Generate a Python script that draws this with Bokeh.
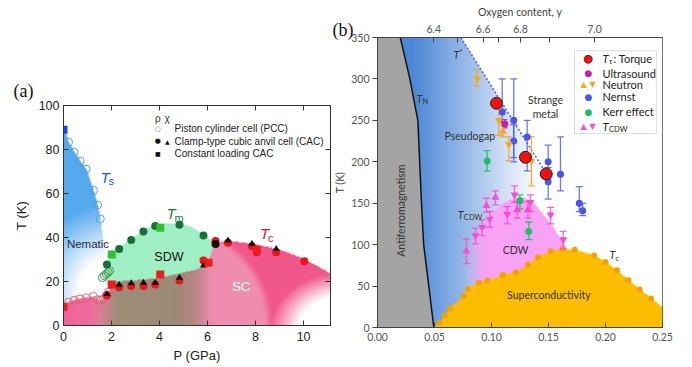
import numpy as np
from bokeh.plotting import figure
from bokeh.layouts import row
from bokeh.models import LinearAxis, FixedTicker, Label, BoxAnnotation, NumeralTickFormatter, Title
from bokeh.embed import file_html
from bokeh.resources import INLINE

FA = "Liberation Sans"
FB = "Lato"
FS = "Liberation Serif"

# ======================= Panel (a) data =======================
a_xticks = [0, 2, 4, 6, 8, 10]
a_yticks = [0, 20, 40, 60, 80, 100]

# Piston cylinder cell (open circles)
pcc_ts_P = [0.21, 0.44, 0.69, 0.94, 1.25, 1.42, 1.53]
pcc_ts_T = [83.3, 78.8, 74.7, 71.1, 61.4, 54.8, 48.5]
pcc_tm_P = [1.62, 1.70, 1.78, 1.86, 1.92]
pcc_tm_T = [21.8, 22.6, 23.4, 24.2, 25.0]
pcc_tc_P = [0.21, 0.44, 0.69, 0.94, 1.25, 1.42, 1.53, 1.67, 1.78, 1.87]
pcc_tc_T = [10.6, 11.4, 12.1, 12.6, 13.2, 11.7, 11.4, 12.1, 13.6, 15.2]
# Clamp-type cubic anvil cell, rho (filled circles)
cac_tm_P = [1.81, 2.32, 2.82, 3.33, 3.82, 4.83, 5.83]
cac_tm_T = [27.7, 34.8, 38.9, 42.7, 45.2, 45.8, 40.9]
cac_tc_P = [1.81, 2.32, 2.82, 3.33, 3.82, 4.83, 5.83, 6.33, 6.85, 7.85, 8.05, 8.86, 10.03]
cac_tc_T = [13.6, 17.4, 17.9, 17.9, 18.6, 20.5, 29.5, 38.4, 37.6, 36.0, 33.3, 33.3, 29.2]
cac_blk_P = [6.33]
cac_blk_T = [37.0]
# CAC, chi (triangles)
chi_tc_P = [1.81, 2.32, 2.82, 3.33, 3.82, 4.83, 5.83, 6.85, 7.85, 8.86]
chi_tc_T = [14.3, 18.5, 19.2, 19.4, 19.4, 21.7, 27.3, 38.6, 37.1, 34.8]
# Constant loading CAC (squares)
cl_ts_P = [0.0]
cl_ts_T = [89.0]
cl_tm_P = [2.01, 4.03]
cl_tm_T = [32.3, 44.4]
cl_tc_P = [0.0, 2.01, 4.03, 6.04, 8.05]
cl_tc_T = [8.5, 18.6, 23.2, 28.5, 34.4]

# phase boundaries (a)
ts_edge_P = [0.0, 0.21, 0.44, 0.69, 0.94, 1.25, 1.42, 1.53, 1.65, 1.75, 1.85, 1.95]
ts_edge_T = [90, 83.3, 78.8, 74.7, 71.1, 61.4, 54.8, 48.5, 38, 28, 18, 0]
sdw_top_P = [1.55, 1.70, 1.81, 2.01, 2.32, 2.82, 3.33, 3.82, 4.20, 4.83, 5.30, 5.83, 6.10, 6.30]
sdw_top_T = [24.0, 27.0, 29.0, 32.8, 35.3, 39.4, 43.2, 45.7, 46.3, 46.2, 44.8, 41.4, 39.0, 37.5]
sdw_bot_P = [1.55, 1.70, 1.85, 2.00, 3.00, 4.00, 4.80, 5.40, 5.80, 6.00, 6.15, 6.30]
sdw_bot_T = [24.0, 20.0, 18.0, 19.8, 20.5, 21.5, 23.5, 25.0, 26.5, 29.0, 33.0, 37.5]
sc_edge_P = [0.0, 0.21, 0.44, 0.69, 0.94, 1.25, 1.42, 1.53, 1.67, 1.78, 1.87, 2.0, 3.0, 4.0, 4.8,
             5.4, 5.8, 6.0, 6.15, 6.3, 6.85, 7.5, 8.0, 8.5, 9.0, 9.5, 10.03, 10.5, 11.12]
sc_edge_T = [8.5, 10.6, 11.4, 12.1, 12.6, 13.2, 11.7, 11.4, 12.1, 13.6, 15.2, 19.8, 20.5, 21.5, 23.5,
             25.0, 26.5, 29.0, 33.0, 37.5, 38.3, 37.6, 36.7, 35.6, 34.3, 32.4, 30.0, 27.3, 23.5]

# ======================= Panel (b) data =======================
b_xticks = [0.0, 0.05, 0.10, 0.15, 0.20, 0.25]
b_yticks = [0, 50, 100, 150, 200, 250, 300, 350]
oxy_values = [6.4, 6.5, 6.6, 6.7, 6.8, 6.9, 7.0]
oxy_tick_p = [0.0494, 0.0704, 0.0927, 0.1064, 0.1254, 0.1512, 0.1904]
oxy_shown = [True, False, True, False, True, False, True]

tn_p = [0.020, 0.0284, 0.0354, 0.0370, 0.0386, 0.0405, 0.0450, 0.0494]
tn_T = [350, 300, 250, 200, 150, 100, 50, 0]
tstar_p = [0.073, 0.148]
tstar_T = [350, 186]

tc_p = [0.0544, 0.0588, 0.0635, 0.0757, 0.0792, 0.0889, 0.0962, 0.110, 0.1216, 0.132, 0.1406,
        0.1518, 0.1626, 0.173, 0.190, 0.200, 0.210, 0.220, 0.230, 0.240]
tc_T = [5.7, 14.5, 23.0, 38.0, 46.6, 54.0, 56.7, 63.5, 66.7, 75.6, 84.8,
        92.0, 94.9, 93.7, 86.9, 79.0, 69.0, 57.0, 46.0, 35.0]
dome_p = [0.0494] + tc_p + [0.25]
dome_T = [0.0] + tc_T + [24.0]

cdw_p = [0.077, 0.085, 0.092, 0.100, 0.110, 0.120, 0.127, 0.135, 0.140, 0.146, 0.152, 0.158, 0.1605, 0.166]
cdw_T = [90, 110, 122, 138, 150, 156, 157, 152, 145, 135, 125, 112, 105, 95]

torque_p = [0.1044, 0.1298, 0.148]
torque_T = [270.6, 205.4, 185.4]

ultra_p = [0.1117]
ultra_T = [245.7]
ultra_lo = [241]
ultra_hi = [251]

neu_dn_p = [0.0874, 0.1064, 0.1152, 0.135]
neu_dn_T = [300, 250, 221, 201]
neu_dn_lo = [291, 232, 201, 171]
neu_dn_hi = [311, 266, 230, 230]
neu_up_p = [0.110]
neu_up_T = [237]
neu_up_lo = [230]
neu_up_hi = [244]

nernst_p = [0.1094, 0.1195, 0.1195, 0.1313, 0.1497, 0.1497, 0.1605, 0.177, 0.180]
nernst_T = [260, 250, 225, 230, 200, 176, 185, 150, 141]
nernst_lo = [248, 200, 205, 189, 180, 155, 165, 140, 135]
nernst_hi = [300, 300, 245, 250, 220, 193, 230, 170, 150]

kerr_p = [0.0962, 0.1249, 0.1327]
kerr_T = [201, 153, 116]
kerr_lo = [189, 143, 106]
kerr_hi = [213.5, 160, 127]

cdw_up_p = [0.078, 0.0956, 0.1035, 0.1225, 0.132]
cdw_up_T = [92, 147, 157, 142, 142]
cdw_up_lo = [77, 139, 148, 132, 132]
cdw_up_hi = [107, 156, 165, 152, 152]
cdw_dn_p = [0.086, 0.0918, 0.0985, 0.1138, 0.1202, 0.134, 0.1518, 0.1629]
cdw_dn_T = [111, 121, 131, 137, 160, 151, 136, 106]
cdw_dn_lo = [101, 111, 121, 125, 151, 140, 125, 95]
cdw_dn_hi = [120, 130, 140, 146, 171, 160, 145, 116]


# ======================= helpers =======================
def blend(rgb, col, a):
    a = np.asarray(a, float)[..., None]
    return rgb * (1 - a) + np.array(col, float) * a


def to_rgba(rgb):
    h, w, _ = rgb.shape
    img = np.empty((h, w), dtype=np.uint32)
    v = img.view(dtype=np.uint8).reshape((h, w, 4))
    v[..., :3] = np.clip(rgb, 0, 255).astype(np.uint8)
    v[..., 3] = 255
    return img


def lab(p, x, y, text, size, color="#222", font=FA, style="normal", align="left",
        baseline="middle", angle=0.0, xo=0, yo=0):
    p.add_layout(Label(x=x, y=y, text=text, text_font=font, text_font_size=f"{size}px",
                       text_font_style=style, text_color=color, text_align=align,
                       text_baseline=baseline, angle=angle, x_offset=xo, y_offset=yo))


def style_axis(ax, font, size, color, tin, tout, tickcol):
    ax.major_tick_in = tin
    ax.major_tick_out = tout
    ax.minor_tick_line_color = None
    ax.major_label_text_font = font
    ax.major_label_text_font_size = f"{size}px"
    ax.major_label_text_color = color
    ax.axis_line_color = tickcol
    ax.major_tick_line_color = tickcol


# ======================= Panel (a) =======================
PMAX = 11.12
p1 = figure(width=331, height=367, x_range=(0, PMAX), y_range=(0, 100),
            output_backend="svg", toolbar_location=None, frame_align=False,
            min_border_left=63, min_border_right=1, min_border_top=105, min_border_bottom=42)
p1.grid.visible = False
p1.outline_line_color = "#333"
p1.background_fill_color = "white"
p1.border_fill_color = "white"
p1.title.text = "(a)"
p1.title.align = "left"
p1.title.offset = -50
p1.title.standoff = 10
p1.title.text_font = FS
p1.title.text_font_size = "18px"
p1.title.text_font_style = "normal"
p1.title.text_color = "#111"

nx, ny = 534, 440
xa = (np.arange(nx) + 0.5) / nx * PMAX
ya = (np.arange(ny) + 0.5) / ny * 100
P, T = np.meshgrid(xa, ya)
rgb = np.full((ny, nx, 3), 255.0)
# nematic (blue)
ts_edge = np.interp(P, ts_edge_P, ts_edge_T, right=-1)
d = np.sqrt(((P - 2) / 3) ** 2 + ((T - 15) / 35) ** 2)
a_b = np.clip((d - 0.45) / 0.7, 0, 1) * (T <= ts_edge)
rgb = blend(rgb, (85, 170, 238), a_b)
# SDW (green)
top = np.interp(P, sdw_top_P, sdw_top_T)
bot = np.interp(P, sdw_bot_P, sdw_bot_T)
ins = (P >= sdw_top_P[0]) & (P <= sdw_top_P[-1]) & (T <= top) & (T >= bot)
a_g = ins * np.clip((P - 1.55) / 0.3, 0, 1)
rgb = blend(rgb, (160, 238, 195), a_g)
# SC (pink) and coexistence (brown)
sc_edge = np.interp(P, sc_edge_P, sc_edge_T)
in_sc = T <= sc_edge
nodes_P = [0, 1.1, 1.5, 2.2, 4.6, 5.4, 6.2, PMAX]
cols = [(238, 100, 150), (240, 108, 158), (222, 125, 150), (158, 142, 122),
        (154, 138, 118), (182, 134, 130), (240, 140, 175), (240, 140, 175)]
base = np.stack([np.interp(P, nodes_P, [c[i] for c in cols]) for i in range(3)], -1)
e = np.sqrt(((P - 4.5) / 4.0) ** 2 + (T / 44.0) ** 2)
w_out = np.clip((e - 0.97) / 0.08, 0, 1) * np.clip((P - 5.9) / 0.4, 0, 1)
base = blend(base, (240, 88, 140), w_out)
d2 = np.sqrt(((P - 11.6) / 3.0) ** 2 + ((T + 2) / 26.0) ** 2)
fade = np.clip((1.0 - d2) / 0.4, 0, 1)
base = blend(base, (255, 255, 255), fade)
rgb = np.where(in_sc[..., None], base, rgb)
p1.image_rgba(image=[to_rgba(rgb)], x=0, y=0, dw=PMAX, dh=100)

# markers (a)
p1.scatter(pcc_ts_P, pcc_ts_T, marker="circle", size=8, fill_color=None, line_color="#5b9be8", line_width=1)
p1.scatter(pcc_tm_P, pcc_tm_T, marker="circle", size=8, fill_color=None, line_color="#4a9a55", line_width=1)
p1.scatter(pcc_tc_P, pcc_tc_T, marker="circle", size=8, fill_color=None, line_color="#e4607a", line_width=1)
p1.scatter(cac_tm_P, cac_tm_T, marker="circle", size=8, fill_color="#17703a", line_color=None)
p1.scatter(cac_tc_P, cac_tc_T, marker="circle", size=8, fill_color="#e8141e", line_color=None)
p1.scatter(cac_blk_P, cac_blk_T, marker="circle", size=8, fill_color="#111111", line_color=None)
p1.scatter(chi_tc_P, chi_tc_T, marker="triangle", size=7, fill_color="#111111", line_color=None)
p1.scatter(cl_ts_P, cl_ts_T, marker="square", size=8, fill_color="#1448e6", line_color=None)
p1.scatter(cl_tm_P, cl_tm_T, marker="square", size=8, fill_color="#2ec02e", line_color=None)
p1.scatter(cl_tc_P, cl_tc_T, marker="square", size=8, fill_color="#ee1c1c", line_color=None)

# axes (a)
p1.xaxis.ticker = FixedTicker(ticks=a_xticks)
p1.yaxis.ticker = FixedTicker(ticks=a_yticks)
style_axis(p1.xaxis[0], FA, 12.5, "#222", 5, 0, "#333")
style_axis(p1.yaxis[0], FA, 12.5, "#222", 5, 0, "#333")
p1.xaxis.major_label_standoff = 6
p1.yaxis.major_label_standoff = 4
for ax in (p1.xaxis[0], p1.yaxis[0]):
    ax.axis_label_text_font = FA
    ax.axis_label_text_font_size = "13px"
    ax.axis_label_text_font_style = "normal"
    ax.axis_label_text_color = "#222"
p1.xaxis.axis_label = "P (GPa)"
p1.xaxis.axis_label_standoff = 4
p1.yaxis.axis_label = "T (K)"
p1.yaxis.axis_label_standoff = 7
top1 = LinearAxis(ticker=FixedTicker(ticks=a_xticks),
                  major_label_overrides={t: "" for t in a_xticks}, major_label_standoff=0)
style_axis(top1, FA, 1, "#222", 5, 0, "#333")
p1.add_layout(top1, "above")
right1 = LinearAxis(ticker=FixedTicker(ticks=a_yticks),
                    major_label_overrides={t: "" for t in a_yticks}, major_label_standoff=0)
style_axis(right1, FA, 1, "#222", 5, 0, "#333")
p1.add_layout(right1, "right")

# region labels (a)
lab(p1, 1.02, 37.1, "Nematic", 11.5, "#1c2b4a", FA, "normal", "center")
lab(p1, 4.39, 31.0, "SDW", 12.5, "#111", FA, "normal", "center")
lab(p1, 7.40, 17.7, "SC", 13, "white", FA, "normal", "center")
lab(p1, 1.54, 67.4, "T", 15, "#1d55e8", FA, "italic", "left")
lab(p1, 1.54, 67.4, "s", 11, "#1d55e8", FA, "normal", "left", xo=8, yo=-4)
lab(p1, 4.29, 50.8, "T", 15, "#1d7a3c", FA, "italic", "left")
lab(p1, 4.29, 50.8, "m", 11, "#1d7a3c", FA, "normal", "left", xo=8, yo=-4)
lab(p1, 8.18, 41.7, "T", 15, "#e0102a", FA, "italic", "left")
lab(p1, 8.18, 41.7, "c", 11, "#e0102a", FA, "normal", "left", xo=8, yo=-4)

# legend (a)
lab(p1, 3.93, 94.0, "ρ", 10, "#333", FA, "normal", "center")
lab(p1, 4.32, 94.0, "χ", 10, "#333", FA, "normal", "center")
lab(p1, 3.93, 89.4, "○", 7, "#777", "DejaVu Sans", "normal", "center")
lab(p1, 3.93, 83.8, "●", 7, "#111", "DejaVu Sans", "normal", "center")
lab(p1, 4.32, 83.8, "▲", 6, "#111", "DejaVu Sans", "normal", "center")
lab(p1, 3.93, 78.0, "■", 6, "#111", "DejaVu Sans", "normal", "center")
lab(p1, 4.625, 89.4, "Piston cylinder cell (PCC)", 10, "#222", FA)
lab(p1, 4.625, 83.8, "Clamp-type cubic anvil cell (CAC)", 10, "#222", FA)
lab(p1, 4.625, 78.0, "Constant loading CAC", 10, "#222", FA)

# ======================= Panel (b) =======================
p2 = figure(width=361, height=367, x_range=(0, 0.25), y_range=(0, 350),
            output_backend="svg", toolbar_location=None, frame_align=False,
            min_border_left=46, min_border_right=30, min_border_top=37, min_border_bottom=40)
p2.grid.visible = False
p2.outline_line_color = "#444"
p2.background_fill_color = "white"
p2.border_fill_color = "white"

nxb, nyb = 570, 580
xb = (np.arange(nxb) + 0.5) / nxb * 0.25
yb = (np.arange(nyb) + 0.5) / nyb * 350
PP, TT = np.meshgrid(xb, yb)
rgbb = np.full((nyb, nxb, 3), 255.0)
tn_edge = np.interp(TT, tn_T[::-1], tn_p[::-1])
af = PP < tn_edge
slope = (tstar_T[1] - tstar_T[0]) / (tstar_p[1] - tstar_p[0])
tstar_edge = tstar_T[0] + (PP - tstar_p[0]) * slope
a_blue = np.clip(1 - (PP - 0.03) / 0.11, 0, 1) * (TT <= tstar_edge) * (~af)
rgbb = blend(rgbb, (75, 135, 215), a_blue)
cdw_edge = np.interp(PP, cdw_p, cdw_T, left=-1, right=-1)
dome_edge = np.interp(PP, dome_p, dome_T, left=-1, right=-1)
a_pink = (TT <= cdw_edge) * np.clip((PP - 0.077) / 0.016, 0, 1)
rgbb = blend(rgbb, (248, 162, 245), a_pink)
rgbb = np.where((TT <= dome_edge)[..., None], np.array([252.0, 188.0, 0.0]), rgbb)
rgbb = np.where(af[..., None], np.array([164.0, 164.0, 164.0]), rgbb)
p2.image_rgba(image=[to_rgba(rgbb)], x=0, y=0, dw=0.25, dh=350)

p2.line(tn_p, tn_T, line_color="#111", line_width=1.5)
p2.line(tstar_p, tstar_T, line_color="#5a66e6", line_width=1.6, line_dash="2 2")
p2.scatter(tc_p, tc_T, marker="circle", size=6, fill_color="#f2a100", line_color=None)


def errbars(p, xs, lo, hi, color, alpha=1.0, cap=7):
    p.segment(x0=xs, y0=lo, x1=xs, y1=hi, line_color=color, line_width=1.3, line_alpha=alpha)
    p.scatter(x=xs, y=lo, marker="dash", size=cap, line_color=color, line_width=1.3, line_alpha=alpha)
    p.scatter(x=xs, y=hi, marker="dash", size=cap, line_color=color, line_width=1.3, line_alpha=alpha)


C_NER = "#4a55f0"
C_NEU = "#f5a623"
C_CDW = "#ff48d6"
C_KER = "#1fbf6a"
C_ULT = "#c21fa6"
errbars(p2, cdw_up_p, cdw_up_lo, cdw_up_hi, C_CDW, 0.85)
errbars(p2, cdw_dn_p, cdw_dn_lo, cdw_dn_hi, C_CDW, 0.85)
errbars(p2, kerr_p, kerr_lo, kerr_hi, C_KER, 0.9)
errbars(p2, nernst_p, nernst_lo, nernst_hi, C_NER, 0.8)
errbars(p2, neu_dn_p, neu_dn_lo, neu_dn_hi, C_NEU, 0.9)
errbars(p2, neu_up_p, neu_up_lo, neu_up_hi, C_NEU, 0.9)
errbars(p2, ultra_p, ultra_lo, ultra_hi, C_ULT, 0.9, 5)

p2.scatter(cdw_up_p, cdw_up_T, marker="triangle", size=8, fill_color=C_CDW, line_color=None)
p2.scatter(cdw_dn_p, cdw_dn_T, marker="inverted_triangle", size=8, fill_color=C_CDW, line_color=None)
p2.scatter(kerr_p, kerr_T, marker="circle", size=7, fill_color=C_KER, line_color=None)
p2.scatter(nernst_p, nernst_T, marker="circle", size=7, fill_color=C_NER, line_color=None)
p2.scatter(neu_dn_p, neu_dn_T, marker="inverted_triangle", size=8, fill_color=C_NEU, line_color=None)
p2.scatter(neu_up_p, neu_up_T, marker="triangle", size=8, fill_color=C_NEU, line_color=None)
p2.scatter(ultra_p, ultra_T, marker="circle", size=7, fill_color=C_ULT, line_color=None)
p2.scatter(torque_p, torque_T, marker="circle", size=12, fill_color="#ee1111", line_color="#222", line_width=1)

# axes (b)
p2.xaxis.ticker = FixedTicker(ticks=b_xticks)
p2.xaxis.formatter = NumeralTickFormatter(format="0.00")
p2.yaxis.ticker = FixedTicker(ticks=b_yticks)
style_axis(p2.xaxis[0], FB, 10.5, "#555", 5, 0, "#444")
style_axis(p2.yaxis[0], FB, 10.5, "#555", 0, 5, "#444")
p2.xaxis.major_label_standoff = 5
p2.yaxis.major_label_standoff = 3
top2 = LinearAxis(ticker=FixedTicker(ticks=oxy_tick_p),
                  major_label_overrides={pp: (f"{v:.1f}" if s else "")
                                         for pp, v, s in zip(oxy_tick_p, oxy_values, oxy_shown)},
                  major_label_standoff=5)
style_axis(top2, FB, 10.5, "#555", 5, 0, "#444")
p2.add_layout(top2, "above")
for ax in (p2.xaxis[0], p2.yaxis[0], top2):
    ax.axis_label_text_font = FB
    ax.axis_label_text_font_size = "10.5px"
    ax.axis_label_text_font_style = "normal"
    ax.axis_label_text_color = "#444"
p2.xaxis[0].axis_label = "Hole doping, p"
p2.xaxis[0].axis_label_standoff = 4
p2.yaxis[0].axis_label = "T (K)"
p2.yaxis[0].axis_label_standoff = 2
top2.axis_label = "Oxygen content, y"
top2.axis_label_standoff = 4

# panel letter (b) as a title pulled down beside the top axis
p2.add_layout(Title(text="(b)", align="left", offset=-45, standoff=-75,
                    text_font=FS, text_font_size="18px", text_font_style="normal",
                    text_color="#111"), "above")

# region labels (b)
TC = "#333"
lab(p2, 0.0667, 329, "T", 10.5, TC, FB, "italic")
lab(p2, 0.0667, 329, "*", 8, TC, FB, "normal", xo=6, yo=3)
lab(p2, 0.0342, 276, "T", 10.5, TC, FB, "italic")
lab(p2, 0.0342, 276, "N", 7.5, TC, FB, "normal", xo=6, yo=-3)
lab(p2, 0.1474, 274, "Strange", 10.5, TC, FB, "normal", "center")
lab(p2, 0.1474, 258, "metal", 10.5, TC, FB, "normal", "center")
lab(p2, 0.0588, 231.6, "Pseudogap", 10.5, TC, FB)
lab(p2, 0.0202, 141, "Antiferromagnetism", 10.5, TC, FB, "normal", "center", angle=np.pi / 2)
lab(p2, 0.0705, 136, "T", 10.5, TC, FB, "italic")
lab(p2, 0.0705, 136, "CDW", 7.5, TC, FB, "normal", xo=6, yo=-3)
lab(p2, 0.1211, 93.7, "CDW", 10.5, TC, FB, "normal", "center")
lab(p2, 0.1503, 39.4, "Superconductivity", 10.5, TC, FB, "normal", "center")
lab(p2, 0.2035, 87, "T", 10.5, TC, FB, "italic")
lab(p2, 0.2035, 87, "c", 7.5, TC, FB, "normal", xo=6, yo=-3)

# legend (b)
p2.add_layout(BoxAnnotation(left=0.1728, right=0.2447, bottom=234, top=334,
                            fill_color="white", fill_alpha=1.0, line_color="#888", line_width=1))
mx, mx1, mx2, tx = 0.185, 0.1807, 0.1886, 0.1974
rows_T = [324.1, 306.8, 292.8, 278.6, 260.6, 242.5]
LF = "DejaVu Sans"
lab(p2, mx, rows_T[0], "●", 11, "#ee1111", LF, "normal", "center")
lab(p2, mx, rows_T[0], "○", 11, "#222", LF, "normal", "center")
lab(p2, mx, rows_T[1], "●", 9, C_ULT, LF, "normal", "center")
lab(p2, mx1, rows_T[2], "▲", 8, C_NEU, LF, "normal", "center")
lab(p2, mx2, rows_T[2], "▼", 8, C_NEU, LF, "normal", "center")
lab(p2, mx, rows_T[3], "●", 9, C_NER, LF, "normal", "center")
lab(p2, mx, rows_T[4], "●", 9, C_KER, LF, "normal", "center")
lab(p2, mx1, rows_T[5], "▲", 8, C_CDW, LF, "normal", "center")
lab(p2, mx2, rows_T[5], "▼", 8, C_CDW, LF, "normal", "center")
lab(p2, tx, rows_T[0], "T", 11, "#222", FB, "italic")
lab(p2, tx, rows_T[0], "τ", 7.5, "#222", FB, "normal", xo=6.5, yo=-3)
lab(p2, tx, rows_T[0], ": Torque", 11, "#222", FB, "normal", xo=11)
lab(p2, tx, rows_T[1], "Ultrasound", 11, "#222", FB)
lab(p2, tx, rows_T[2], "Neutron", 11, "#222", FB)
lab(p2, tx, rows_T[3], "Nernst", 11, "#222", FB)
lab(p2, tx, rows_T[4], "Kerr effect", 11, "#222", FB)
lab(p2, tx, rows_T[5], "T", 11, "#222", FB, "italic")
lab(p2, tx, rows_T[5], "CDW", 7.5, "#222", FB, "normal", xo=6.5, yo=-3)

layout = row(p1, p2)
open("out.html", "w").write(file_html(layout, INLINE))
